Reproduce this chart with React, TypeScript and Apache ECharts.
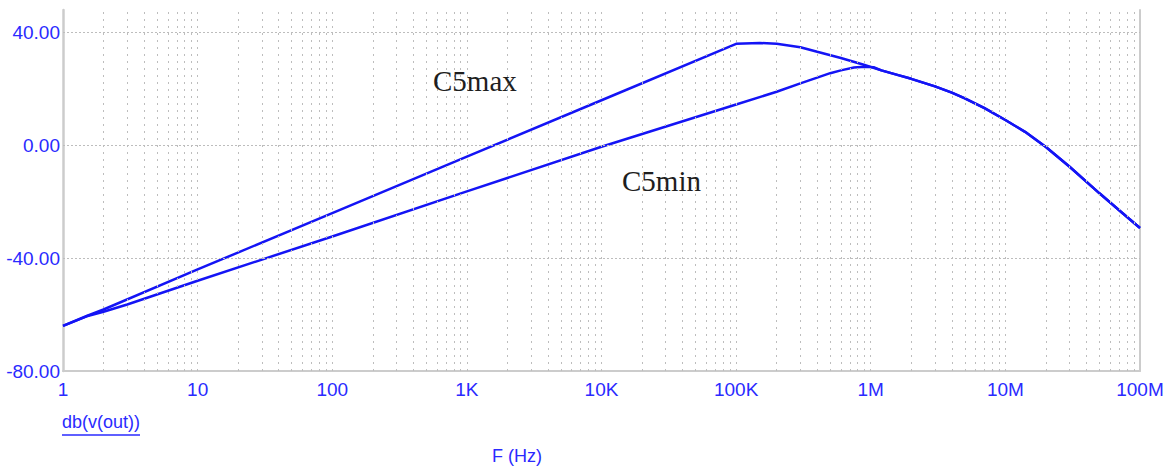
import React, { useEffect, useRef } from "react";
import * as echarts from "echarts";

// ---- data ----
const xTickValues = [1, 10, 100, 1e3, 1e4, 1e5, 1e6, 1e7, 1e8];
const xTickLabels = ["1", "10", "100", "1K", "10K", "100K", "1M", "10M", "100M"];
const yTickValues = [-80, -40, 0, 40];

const freqC5max = [1, 1.5, 2, 10, 100, 1e3, 1e4, 1e5, 1.5e5, 2e5, 3e5, 4e5, 6e5, 9e5, 1.2e6, 1.6e6, 2e6, 3e6, 4e6, 5e6, 7e6, 1e7, 1.4e7, 2e7, 3e7, 5e7, 7e7, 1e8];
const dbC5max = [-64, -60.5, -58.2, -44, -24, -4, 16, 36, 36.3, 36, 34.8, 33.2, 31, 28.5, 26.6, 24.9, 23.6, 20.9, 18.7, 16.7, 13.2, 9.0, 4.8, -0.6, -7.6, -17.0, -23.0, -29.3];

const freqC5min = [1, 1.5, 2, 3, 10, 100, 1e3, 1e4, 1e5, 2e5, 3e5, 4e5, 5e5, 6e5, 7.5e5, 9e5, 1.05e6, 1.2e6, 1.6e6, 2e6, 3e6, 4e6, 5e6, 7e6, 1e7, 1.4e7, 2e7, 3e7, 5e7, 7e7, 1e8];
const dbC5min = [-64, -60.6, -59, -56.4, -48, -32.3, -16.3, -0.5, 14.5, 19, 22, 24, 25.6, 26.6, 27.6, 27.9, 27.7, 26.6, 24.9, 23.6, 20.9, 18.7, 16.7, 13.2, 9.0, 4.8, -0.6, -7.6, -17.0, -23.0, -29.3];

const hGridValues = [40, 0, -40];
const minorSteps = [1, 2, 3, 4, 5, 6, 7, 8, 9];

const LABEL_BLUE = "#2a2aff";
const LINE_BLUE = "#1414f5";
const GRID_GRAY = "#bdbdbd";
const AXIS_GRAY = "#cccccc";
const SANS = "'Liberation Sans', Arial, sans-serif";
const SERIF = "'Liberation Serif', 'Times New Roman', serif";

function buildOption() {
  const vGrid: number[] = [];
  xTickValues.slice(0, -1).forEach((d) => {
    minorSteps.forEach((k) => {
      const v = k * d;
      if (v > 1 && v < 1e8) vGrid.push(v);
    });
  });

  return {
    animation: false,
    backgroundColor: "#ffffff",
    grid: { left: 63, right: 31, top: 10, bottom: 102, containLabel: false },
    xAxis: {
      type: "log",
      logBase: 10,
      min: 1,
      max: 1e8,
      splitNumber: 8,
      axisLine: { show: true, onZero: false, lineStyle: { color: AXIS_GRAY, width: 2 } },
      axisTick: { show: false },
      splitLine: { show: false },
      minorSplitLine: { show: false },
      axisLabel: {
        color: LABEL_BLUE,
        fontSize: 19,
        fontFamily: SANS,
        margin: 9,
        formatter: (v: number) => {
          const i = Math.round(Math.log10(v));
          return xTickLabels[i] ?? "";
        },
      },
    },
    yAxis: [
      {
        type: "value",
        min: -80,
        max: 48,
        interval: 40,
        axisLine: { show: true, lineStyle: { color: AXIS_GRAY, width: 2.5 } },
        axisTick: { show: false },
        splitLine: { show: false },
        axisLabel: {
          color: LABEL_BLUE,
          fontSize: 19,
          fontFamily: SANS,
          margin: 3,
          showMaxLabel: false,
          formatter: (v: number) => (yTickValues.includes(v) ? v.toFixed(2) : ""),
        },
      },
      {
        type: "value",
        position: "right",
        min: -80,
        max: 48,
        interval: 40,
        axisLine: { show: true, lineStyle: { color: AXIS_GRAY, width: 2 } },
        axisTick: { show: false },
        splitLine: { show: false },
        axisLabel: { show: false },
      },
    ],
    series: [
      {
        type: "line",
        name: "grid",
        data: [[1, -80]],
        showSymbol: false,
        symbol: "none",
        lineStyle: { width: 0, opacity: 0 },
        silent: true,
        z: 1,
        markLine: {
          silent: true,
          symbol: ["none", "none"],
          label: { show: false },
          lineStyle: { color: GRID_GRAY, width: 1, type: [2, 5] },
          data: [
            ...vGrid.map((v) => ({ xAxis: v })),
            ...hGridValues.map((v) => ({
              yAxis: v,
              lineStyle: { color: GRID_GRAY, width: 1, type: [2, 2] },
            })),
          ],
        },
      },
      {
        type: "line",
        name: "C5max",
        data: freqC5max.map((f, i) => [f, dbC5max[i]]),
        showSymbol: false,
        symbol: "none",
        lineStyle: { color: LINE_BLUE, width: 2.5 },
        z: 3,
      },
      {
        type: "line",
        name: "C5min",
        data: freqC5min.map((f, i) => [f, dbC5min[i]]),
        showSymbol: false,
        symbol: "none",
        lineStyle: { color: LINE_BLUE, width: 2.5 },
        z: 3,
      },
    ],
    graphic: [
      {
        type: "text",
        left: 433,
        top: 66,
        style: { text: "C5max", fontSize: 29, fontFamily: SERIF, fill: "#1e1e1e" },
        z: 10,
      },
      {
        type: "text",
        left: 622,
        top: 166,
        style: { text: "C5min", fontSize: 29, fontFamily: SERIF, fill: "#1e1e1e" },
        z: 10,
      },
      {
        type: "text",
        left: 62,
        top: 413,
        style: { text: "db(v(out))", fontSize: 18, fontFamily: SANS, fill: LABEL_BLUE },
        z: 10,
      },
      {
        type: "line",
        shape: { x1: 62, y1: 435, x2: 140, y2: 435 },
        style: { stroke: LABEL_BLUE, lineWidth: 1.5 },
        z: 10,
      },
      {
        type: "text",
        left: 492,
        top: 447,
        style: { text: "F (Hz)", fontSize: 18, fontFamily: SANS, fill: LABEL_BLUE },
        z: 10,
      },
    ],
  };
}

export default function App() {
  const ref = useRef<HTMLDivElement>(null);
  useEffect(() => {
    if (!ref.current) return;
    const chart = echarts.init(ref.current, null, { renderer: "svg" });
    chart.setOption(buildOption() as any);
    return () => chart.dispose();
  }, []);
  return (
    <div
      ref={ref}
      style={{ position: "fixed", left: 0, top: 0, width: 1171, height: 473, background: "#ffffff" }}
    />
  );
}
